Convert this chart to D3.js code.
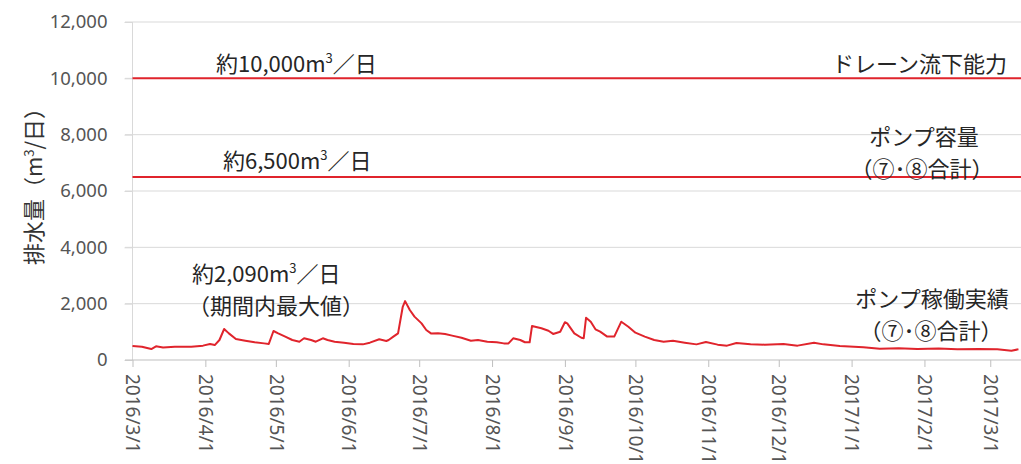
<!DOCTYPE html>
<html><head><meta charset="utf-8">
<script src="https://cdn.jsdelivr.net/npm/d3@7"></script>
<style>body{margin:0;background:#fff}svg{display:block}</style>
</head><body>
<svg id="c" width="1021" height="464"></svg>
<script>
const dates = [
"2016-03-01","2016-03-05","2016-03-09","2016-03-11","2016-03-14","2016-03-19","2016-03-26","2016-03-31",
"2016-04-03","2016-04-05","2016-04-07","2016-04-09","2016-04-11","2016-04-14","2016-04-18","2016-04-22","2016-04-26","2016-04-28","2016-04-30",
"2016-05-02","2016-05-05","2016-05-08","2016-05-11","2016-05-13","2016-05-16","2016-05-18","2016-05-21","2016-05-23","2016-05-26","2016-05-30",
"2016-06-03","2016-06-07","2016-06-10","2016-06-14","2016-06-17","2016-06-18","2016-06-20","2016-06-22","2016-06-24","2016-06-25","2016-06-27","2016-06-29",
"2016-07-02","2016-07-04","2016-07-06","2016-07-09","2016-07-12","2016-07-15","2016-07-19","2016-07-23","2016-07-26","2016-07-30",
"2016-08-03","2016-08-06","2016-08-08","2016-08-10","2016-08-13","2016-08-15","2016-08-17","2016-08-18","2016-08-22","2016-08-25","2016-08-27","2016-08-30",
"2016-09-01","2016-09-02","2016-09-05","2016-09-08","2016-09-09","2016-09-10","2016-09-12","2016-09-14","2016-09-16","2016-09-19","2016-09-22","2016-09-25","2016-09-28",
"2016-10-01","2016-10-05","2016-10-09","2016-10-13","2016-10-17","2016-10-22","2016-10-27","2016-10-31",
"2016-11-05","2016-11-09","2016-11-13","2016-11-19","2016-11-25",
"2016-12-03","2016-12-09","2016-12-16","2016-12-20","2016-12-27",
"2017-01-06","2017-01-13","2017-01-21","2017-01-29",
"2017-02-07","2017-02-15","2017-02-24",
"2017-03-04","2017-03-10","2017-03-13"
];
const values = [
500,470,390,485,440,470,470,510,
570,530,710,1100,945,745,685,630,590,570,1030,
945,830,710,650,770,710,650,770,710,650,615,
570,555,615,735,675,710,830,945,1890,2090,1775,1540,
1300,1065,945,950,920,865,790,685,710,650,
630,590,590,770,710,630,630,1205,1125,1040,925,1005,
1340,1300,945,790,770,1500,1360,1090,1005,830,830,1360,1180,
970,830,710,650,680,615,555,640,
545,510,605,555,545,
570,510,615,555,497,
450,400,420,390,
410,380,390,
380,330,380
];
const yTicks = [0,2000,4000,6000,8000,10000,12000];
const xTicks = ["2016-03-01","2016-04-01","2016-05-01","2016-06-01","2016-07-01","2016-08-01","2016-09-01","2016-10-01","2016-11-01","2016-12-01","2017-01-01","2017-02-01","2017-03-01"];
const refValues = [10000, 6500];

const parse = d3.timeParse("%Y-%m-%d");
const data = dates.map((d,i)=>({date:parse(d), v:values[i]}));
const svg = d3.select("#c");
const x = d3.scaleTime().domain([parse("2016-03-01"), parse("2017-03-14")]).range([132.5, 1020.8]);
const y = d3.scaleLinear().domain([0,12000]).range([360,22]);
const RIGHT = 1021;
const red = "#e0242c";
const numFont = "'Noto Sans', 'DejaVu Sans', sans-serif";
const jpFont = "'Noto Sans CJK JP', sans-serif";

// gridlines
svg.append("g").selectAll("line").data(yTicks.filter(t=>t>0)).join("line")
  .attr("x1",125).attr("x2",RIGHT).attr("y1",d=>y(d)).attr("y2",d=>y(d))
  .attr("stroke","#d9d9d9").attr("stroke-width",1);

// vertical axis line
svg.append("line").attr("x1",x(parse("2016-03-01"))).attr("x2",x(parse("2016-03-01")))
  .attr("y1",y(12000)).attr("y2",y(0)).attr("stroke","#d9d9d9");

// y axis labels
const yAxis = svg.append("g").attr("transform",`translate(${x(parse("2016-03-01"))},0)`)
  .call(d3.axisLeft(y).tickValues(yTicks).tickSize(8).tickPadding(17).tickFormat(d3.format(",")));
yAxis.select(".domain").remove();
yAxis.selectAll(".tick line").attr("stroke","#d9d9d9");
yAxis.selectAll("text").attr("font-family",numFont).attr("font-size",18.5).attr("fill","#555");

// x axis
const xAxis = svg.append("g").attr("transform",`translate(0,${y(0)})`)
  .call(d3.axisBottom(x).tickValues(xTicks.map(parse)).tickSize(7).tickFormat(d3.timeFormat("%Y/%-m/%-d")));
xAxis.select(".domain").remove();
xAxis.selectAll(".tick line").attr("stroke","#bfbfbf");
xAxis.selectAll("text").attr("transform","rotate(90)").attr("x",14).attr("y",0).attr("dy","0.36em")
  .attr("text-anchor","start").attr("font-family",numFont).attr("font-size",19).attr("fill","#555");
svg.append("line").attr("x1",125).attr("x2",RIGHT).attr("y1",y(0)).attr("y2",y(0)).attr("stroke","#bfbfbf");

// reference lines
svg.append("g").selectAll("line").data(refValues).join("line")
  .attr("x1",x(parse("2016-03-01"))).attr("x2",RIGHT).attr("y1",d=>y(d)).attr("y2",d=>y(d))
  .attr("stroke",red).attr("stroke-width",2);

// data line
svg.append("path").datum(data).attr("fill","none").attr("stroke",red).attr("stroke-width",2)
  .attr("stroke-linejoin","round")
  .attr("d", d3.line().x(d=>x(d.date)).y(d=>y(d.v)));

// y title
svg.append("text").attr("transform","translate(42,181) rotate(-90)").attr("text-anchor","middle")
  .attr("font-family",jpFont).attr("font-size",22).attr("fill","#333")
  .call(t=>{
    t.append("tspan").text("排水量（m");
    t.append("tspan").attr("font-size",13).attr("dy",-8).text("3");
    t.append("tspan").attr("dy",8).text("/日）");
  });

// annotations
function supText(xp, yp, pre, post){
  const t = svg.append("text").attr("x",xp).attr("y",yp)
    .attr("font-family",jpFont).attr("font-size",22).attr("fill","#262626");
  t.append("tspan").text(pre);
  t.append("tspan").attr("font-size",13).attr("dy",-9).text("3");
  t.append("tspan").attr("dy",9).text(post);
}
function plain(xc, yp, s, anchor){
  svg.append("text").attr("x",xc).attr("y",yp).attr("text-anchor",anchor||"middle")
    .attr("font-family",jpFont).attr("font-size",22).attr("fill","#262626").text(s);
}
supText(216, 72, "約10,000m", "／日");
supText(223, 169, "約6,500m", "／日");
supText(192, 282, "約2,090m", "／日");
plain(276, 314, "（期間内最大値）");
plain(1007, 72, "ドレーン流下能力", "end");
plain(924, 145, "ポンプ容量");
plain(922, 177, "（⑦･⑧合計）");
plain(932, 307, "ポンプ稼働実績");
plain(931, 339, "（⑦･⑧合計）");
</script>
</body></html>
